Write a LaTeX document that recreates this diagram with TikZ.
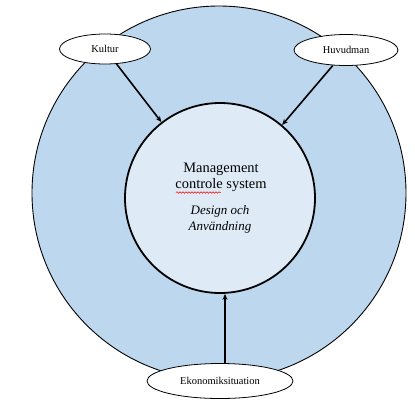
\documentclass[tikz,border=0pt]{standalone}
\usepackage{fontspec}
\setmainfont{Liberation Serif}
\usetikzlibrary{shapes.geometric,arrows.meta,decorations.pathmorphing}
\definecolor{outerblue}{RGB}{189,215,238}
\definecolor{innerblue}{RGB}{222,235,247}
\tikzset{
  lbl/.style={ellipse,draw=black,line width=0.8pt,fill=white,inner sep=0pt,font=\fontsize{10.5}{12}\selectfont},
  conn/.style={line width=1.6pt,-{Stealth[length=6pt,width=5pt]}},
}
\begin{document}
\begin{tikzpicture}[x=1bp,y=-1bp]
\useasboundingbox (0,0) rectangle (415,414);
\node[circle,draw=black,line width=0.9pt,fill=outerblue,minimum size=374bp,inner sep=0pt] (outer) at (219,193) {};
\node[circle,draw=black,line width=1.8pt,fill=innerblue,minimum size=190bp,inner sep=0pt] (inner) at (220,198) {};
\node[align=center,font=\fontsize{14.5}{16}\selectfont] (title) at (221,177) {Management\\controle system};
\node[align=center,font=\fontsize{13}{16}\itshape] (sub) at (220,219) {Design och\\Användning};
\draw[red,line width=0.5pt,decorate,decoration={snake,amplitude=0.8bp,segment length=3bp}] (176,192.5) -- (221,192.5);
\node[lbl,minimum width=91bp,minimum height=30bp] (kultur) at (105,49) {Kultur};
\node[lbl,minimum width=104bp,minimum height=31bp] (huvud) at (346,50) {Huvudman};
\node[lbl,minimum width=146bp,minimum height=35bp] (ekon) at (220,381) {Ekonomiksituation};
\draw[conn] (kultur) -- (inner);
\draw[conn] (huvud) -- (inner);
\draw[conn] ([xshift=5bp]ekon.north) -- ([xshift=5bp]inner.south);
\end{tikzpicture}
\end{document}
